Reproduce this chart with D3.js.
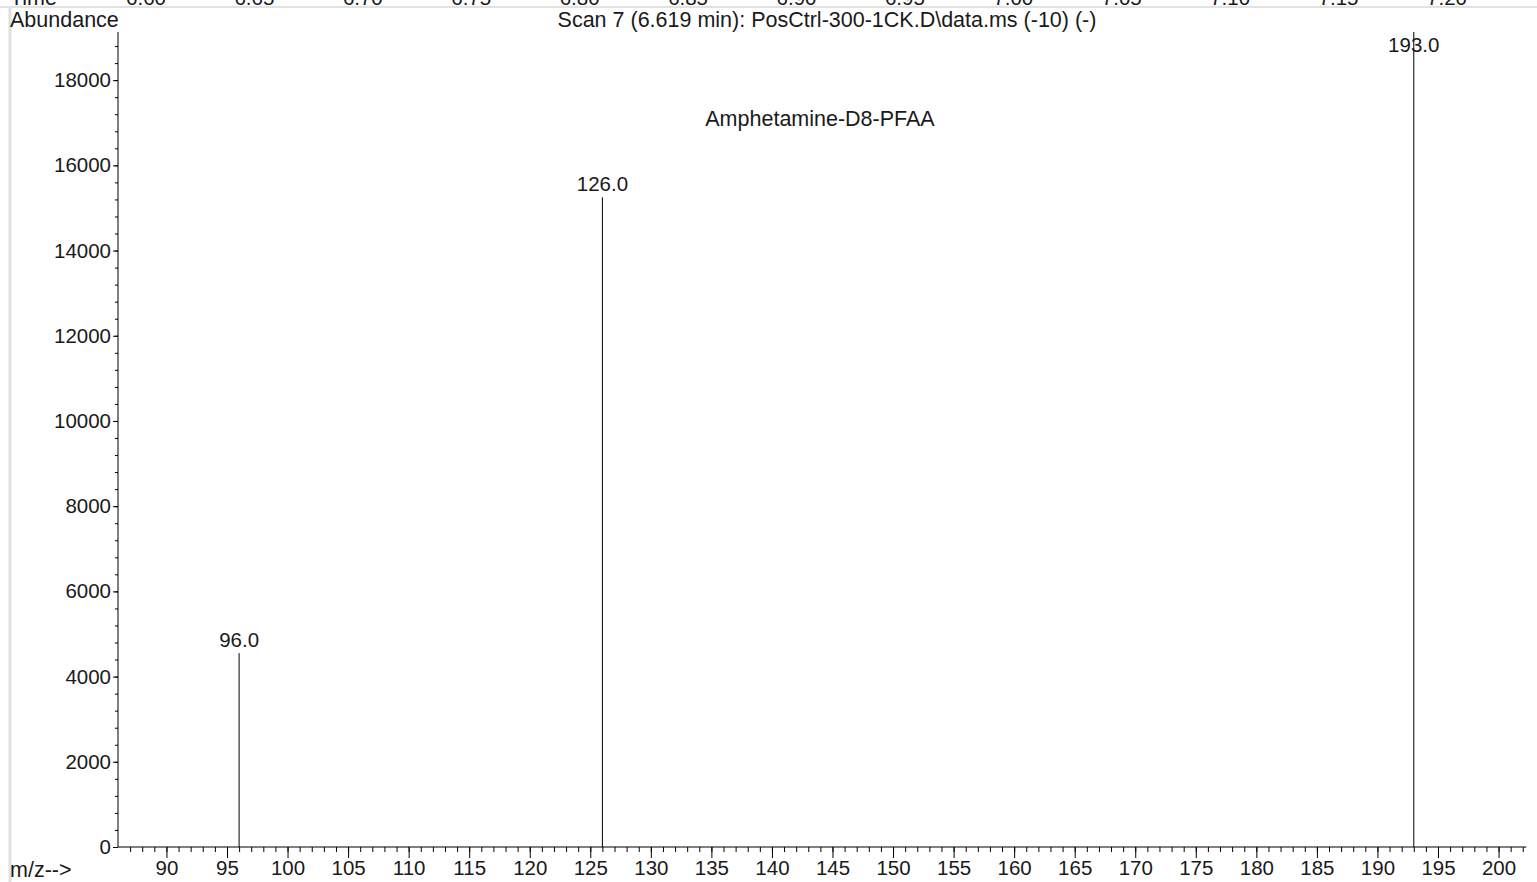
<!DOCTYPE html>
<html>
<head>
<meta charset="utf-8">
<script src="https://cdn.jsdelivr.net/npm/d3@7"></script>
<style>
  html, body { margin: 0; padding: 0; background: #fff; }
  svg { display: block; }
  text { font-family: "Liberation Sans", Arial, sans-serif; fill: #1a1a1a; }
</style>
</head>
<body>
<svg id="chart" width="1537" height="882"></svg>
<script>
// ---- data ----
const peakMz = [96.0, 126.0, 193.0];
const peakAbundance = [4550, 15250, 19130];
const peakLabels = ["96.0", "126.0", "193.0"];
const yTicks = [0, 2000, 4000, 6000, 8000, 10000, 12000, 14000, 16000, 18000];
const xTicks = [90, 95, 100, 105, 110, 115, 120, 125, 130, 135, 140, 145, 150, 155, 160, 165, 170, 175, 180, 185, 190, 195, 200];
const timeTicks = ["6.60", "6.65", "6.70", "6.75", "6.80", "6.85", "6.90", "6.95", "7.00", "7.05", "7.10", "7.15", "7.20"];
const titleText = "Scan 7 (6.619 min): PosCtrl-300-1CK.D\\data.ms (-10) (-)";
const compoundText = "Amphetamine-D8-PFAA";

// ---- layout ----
const W = 1537, H = 882;
const svg = d3.select("#chart");
const FS = 20.5;   // tick / peak labels
const FT = 21.5;   // titles

const x = d3.scaleLinear().domain([86, 202.3]).range([118, 1526.4]);
const y = d3.scaleLinear().domain([0, 19130]).range([847, 32]);
const tScale = d3.scaleLinear().domain([6.60, 7.20]).range([146, 1447]);

// frame lines from neighbouring panel
svg.append("line").attr("x1", 0).attr("x2", W).attr("y1", 7).attr("y2", 7)
  .attr("stroke", "#d8d8d8").attr("stroke-width", 1.5);
svg.append("line").attr("x1", 10).attr("x2", 10).attr("y1", 7).attr("y2", H)
  .attr("stroke", "#e0e0e0").attr("stroke-width", 3);

// clipped time axis labels of the panel above
const topG = svg.append("g");
topG.append("text").attr("x", 10).attr("y", 4.5).attr("font-size", FT).text("Time");
topG.selectAll("text.tt").data(timeTicks).enter().append("text")
  .attr("class", "tt")
  .attr("x", d => tScale(+d)).attr("y", 4.5)
  .attr("text-anchor", "middle").attr("font-size", FS).text(d => d);

// titles
svg.append("text").attr("x", 10).attr("y", 27).attr("font-size", FT).text("Abundance");
svg.append("text").attr("x", 827).attr("y", 27).attr("text-anchor", "middle").attr("font-size", FT).text(titleText);
svg.append("text").attr("x", 820).attr("y", 126).attr("text-anchor", "middle").attr("font-size", FT).text(compoundText);
svg.append("text").attr("x", 10).attr("y", 877).attr("font-size", FT).text("m/z-->");

// y axis
const yAxisG = svg.append("g").attr("transform", "translate(118,0)");
yAxisG.call(d3.axisLeft(y).tickValues(d3.range(0, 19130, 400)).tickSize(3).tickFormat(""));
yAxisG.call(g => g.select(".domain").remove());
const yMajor = svg.append("g").attr("transform", "translate(118,0)")
  .call(d3.axisLeft(y).tickValues(yTicks).tickSize(5).tickPadding(2).tickFormat(d3.format("d")));
yMajor.select(".domain").remove();
yMajor.selectAll("text").attr("font-size", FS).attr("font-family", null).attr("fill", "#1a1a1a");
svg.append("line").attr("x1", 118).attr("x2", 118).attr("y1", y(19130)).attr("y2", y(0))
  .attr("stroke", "#000");

// x axis
const xMinor = svg.append("g").attr("transform", "translate(0,847)")
  .call(d3.axisBottom(x).tickValues(d3.range(87, 203, 1)).tickSize(5).tickFormat(""));
xMinor.select(".domain").remove();
const xMajor = svg.append("g").attr("transform", "translate(0,847)")
  .call(d3.axisBottom(x).tickValues(xTicks).tickSize(11).tickPadding(2).tickFormat(d3.format("d")));
xMajor.select(".domain").remove();
xMajor.selectAll("text").attr("font-size", FS).attr("font-family", null).attr("fill", "#1a1a1a");
svg.append("line").attr("x1", x(86)).attr("x2", x(202.3)).attr("y1", 847).attr("y2", 847)
  .attr("stroke", "#000");

svg.selectAll(".tick line").attr("stroke", "#000");

// peaks
const peaks = peakMz.map((m, i) => ({ m, a: peakAbundance[i], label: peakLabels[i] }));
svg.append("g").selectAll("line").data(peaks).enter().append("line")
  .attr("x1", d => x(d.m)).attr("x2", d => x(d.m))
  .attr("y1", y(0)).attr("y2", d => y(d.a))
  .attr("stroke", "#000").attr("stroke-width", 1);
svg.append("g").selectAll("text").data(peaks).enter().append("text")
  .attr("x", d => x(d.m))
  .attr("y", d => Math.max(y(d.a) - 6, y(19130) + 20))
  .attr("text-anchor", "middle").attr("font-size", FS).text(d => d.label);
</script>
</body>
</html>
